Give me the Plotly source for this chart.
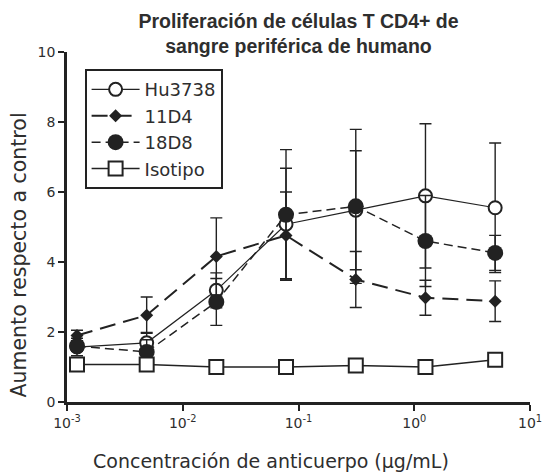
import plotly.graph_objects as go

conc = [0.00122, 0.00488, 0.0195, 0.078, 0.3125, 1.25, 5.0]

hu3738 = [1.57, 1.69, 3.19, 5.08, 5.48, 5.89, 5.55]
hu3738_err = [0.25, 0.3, 0.5, 1.6, 1.7, 2.06, 1.85]

d11d4 = [1.9, 2.48, 4.16, 4.76, 3.5, 2.98, 2.88]
d11d4_err = [0.15, 0.52, 1.1, 1.24, 0.8, 0.5, 0.58]

d18d8 = [1.6, 1.43, 2.86, 5.35, 5.59, 4.6, 4.26]
d18d8_err = [0.15, 0.35, 0.67, 1.86, 2.2, 1.3, 0.5]

isotipo = [1.07, 1.07, 1.0, 1.0, 1.04, 1.0, 1.21]
isotipo_err = [0.05, 0.05, 0.05, 0.05, 0.05, 0.05, 0.05]

xticks = [0.001, 0.01, 0.1, 1, 10]
xticklabels = ["10<sup>-3</sup>", "10<sup>-2</sup>", "10<sup>-1</sup>", "10<sup>0</sup>", "10<sup>1</sup>"]
yticks = [0, 2, 4, 6, 8, 10]

WIDE = "DejaVu Sans, Verdana, sans-serif"
ARIAL = "Liberation Sans, Arial, sans-serif"
TXT = "#2e2e2e"
INK = "#222"

fig = go.Figure()

def eb(arr):
    return dict(type="data", array=arr, visible=True, color=INK, thickness=1.4, width=6)

fig.add_trace(go.Scatter(
    x=conc, y=hu3738, name="Hu3738", mode="lines+markers",
    line=dict(color=INK, width=1.2),
    marker=dict(symbol="circle", size=13, color="white", line=dict(color=INK, width=2)),
    error_y=eb(hu3738_err)))
fig.add_trace(go.Scatter(
    x=conc, y=d11d4, name="11D4", mode="lines+markers",
    line=dict(color=INK, width=2, dash="16px,8px"),
    marker=dict(symbol="diamond", size=10, color=INK),
    error_y=eb(d11d4_err)))
fig.add_trace(go.Scatter(
    x=conc, y=d18d8, name="18D8", mode="lines+markers",
    line=dict(color=INK, width=1.5, dash="9px,5px"),
    marker=dict(symbol="circle", size=16, color=INK),
    error_y=eb(d18d8_err)))
fig.add_trace(go.Scatter(
    x=conc, y=isotipo, name="Isotipo", mode="lines+markers",
    line=dict(color=INK, width=1.5),
    marker=dict(symbol="square", size=14, color="white", line=dict(color=INK, width=2)),
    error_y=eb(isotipo_err)))

fig.update_layout(
    width=546, height=465,
    margin=dict(l=59, r=17, t=44, b=71),
    paper_bgcolor="white", plot_bgcolor="white",
    font=dict(family=WIDE, color=TXT, size=14),
    title=dict(
        text="<b>Proliferación de células T CD4+ de<br>sangre periférica de humano</b>",
        xref="paper", x=0.5, xanchor="center",
        yref="container", y=0.957, yanchor="top",
        font=dict(family=ARIAL, size=19.5, color=TXT)),
    showlegend=True,
    legend=dict(
        x=0.038, y=0.951, xanchor="left", yanchor="top",
        bgcolor="white", bordercolor=INK, borderwidth=2,
        font=dict(family=WIDE, size=18, color=TXT),
        itemwidth=48, tracegroupgap=0),
    xaxis=dict(
        type="log", range=[-3, 1],
        tickvals=xticks, ticktext=xticklabels,
        ticks="outside", ticklen=6, tickwidth=2, tickcolor=INK,
        showline=True, linecolor=INK, linewidth=2.5,
        showgrid=False, zeroline=False,
        tickfont=dict(family=WIDE, size=14, color=TXT)),
    yaxis=dict(
        range=[0, 10], tickvals=yticks,
        ticks="outside", ticklen=6, tickwidth=2, tickcolor=INK,
        showline=True, linecolor=INK, linewidth=2.5,
        showgrid=False, zeroline=False,
        tickfont=dict(family=WIDE, size=14, color=TXT)),
    annotations=[
        dict(text="Concentración de anticuerpo (µg/mL)", xref="paper", yref="paper",
             x=0.4404, y=-0.1686, xanchor="center", yanchor="middle", showarrow=False,
             font=dict(family=WIDE, size=19, color=TXT)),
        dict(text="Aumento respecto a control", xref="paper", yref="paper",
             x=-0.104, y=0.421, xanchor="center", yanchor="middle", showarrow=False,
             textangle=-90, font=dict(family=WIDE, size=20.5, color=TXT)),
    ],
)

fig.write_html("out.html")
